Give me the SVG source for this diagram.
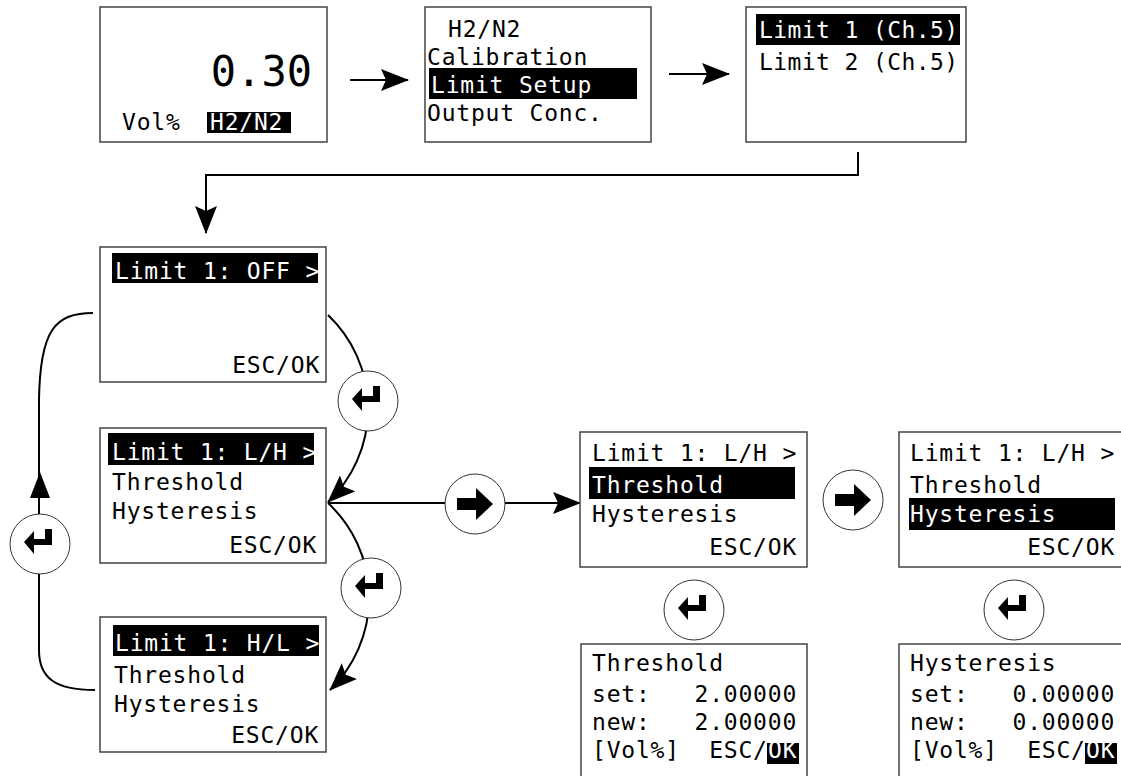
<svg xmlns="http://www.w3.org/2000/svg" xmlns:xlink="http://www.w3.org/1999/xlink" width="1121" height="776" viewBox="0 0 1121 776">
<style>
.box{fill:#fff;stroke:#444;stroke-width:1.5}
.t{font-family:"DejaVu Sans Mono","Liberation Mono",monospace;font-size:23px;letter-spacing:0.8px;fill:#000;white-space:pre}
.n{letter-spacing:0.4px}
.w{fill:#fff}
.hl{fill:#000}
.big{font-family:"DejaVu Sans Mono","Liberation Mono",monospace;font-size:42px;fill:#000}
.c{fill:none;stroke:#000;stroke-width:2}
.btn{fill:#fff;stroke:#333;stroke-width:1}
.ico{fill:#000}
</style>
<defs>
<marker id="ah" viewBox="0 0 28 22" refX="27" refY="11" markerWidth="28" markerHeight="22" markerUnits="userSpaceOnUse" orient="auto">
<path d="M0,0 L28,11 L0,22 L5,11 Z" fill="#000"/>
</marker>
<path id="enter" d="M12,-15 L12,1 L-6,1 L-6,10 L-16,-2 L-6,-13 L-6,-5 L5,-5 L5,-15 Z"/>
<path id="right" d="M-18,-6 L1,-6 L1,-16 L18,0 L1,16 L1,6 L-18,6 Z"/>
</defs>
<rect width="1121" height="776" fill="#fff"/>

<g id="connectors">
<line class="c" x1="350" y1="80" x2="408" y2="80" marker-end="url(#ah)"/>
<line class="c" x1="669" y1="74" x2="729" y2="74" marker-end="url(#ah)"/>
<polyline class="c" points="858,152 858,175 206,175 206,233" marker-end="url(#ah)"/>
<path class="c" d="M328,315 A129,129 0 0 1 328,502" marker-end="url(#ah)"/>
<path class="c" d="M328,503 A129,129 0 0 1 330,690" marker-end="url(#ah)"/>
<line class="c" x1="328" y1="503" x2="580" y2="503" marker-end="url(#ah)"/>
<path class="c" d="M95,690 C55,690 39,678 39,650 L39,400 C40,330 55,313 93,313"/>
<polygon points="40,472 30,498 50,498" fill="#000"/>
</g>

<g id="btn-enter-1"><circle class="btn" cx="368" cy="401" r="30"/><use href="#enter" x="368" y="401" class="ico"/></g>
<g id="btn-enter-2"><circle class="btn" cx="371" cy="588" r="30"/><use href="#enter" x="371" y="588" class="ico"/></g>
<g id="btn-enter-3"><circle class="btn" cx="40" cy="544" r="30"/><use href="#enter" x="40" y="544" class="ico"/></g>
<g id="btn-enter-4"><circle class="btn" cx="694" cy="610" r="30"/><use href="#enter" x="694" y="610" class="ico"/></g>
<g id="btn-enter-5"><circle class="btn" cx="1014" cy="610" r="30"/><use href="#enter" x="1014" y="610" class="ico"/></g>
<g id="btn-right-1"><circle class="btn" cx="475" cy="504" r="30"/><use href="#right" x="475" y="504" class="ico"/></g>
<g id="btn-right-2"><circle class="btn" cx="853" cy="500" r="30"/><use href="#right" x="853" y="500" class="ico"/></g>

<g id="screen-main">
<rect class="box" x="100" y="7" width="227" height="135"/>
<text class="big" x="312" y="86" text-anchor="end">0.30</text>
<text class="t" x="122" y="130">Vol%</text>
<rect class="hl" x="207" y="112" width="84" height="21"/>
<text class="t w" x="210" y="130">H2/N2</text>
</g>

<g id="screen-menu">
<rect class="box" x="425" y="7" width="226" height="135"/>
<text class="t" x="448" y="37">H2/N2</text>
<text class="t" x="427" y="65">Calibration</text>
<rect class="hl" x="429" y="68" width="208" height="31"/>
<text class="t w" x="431" y="93">Limit Setup</text>
<text class="t" x="427" y="121">Output Conc.</text>
</g>

<g id="screen-limits">
<rect class="box" x="746" y="7" width="220" height="135"/>
<rect class="hl" x="756" y="14" width="204" height="31"/>
<text class="t n w" x="759" y="38">Limit 1 (Ch.5)</text>
<text class="t n" x="759" y="70">Limit 2 (Ch.5)</text>
</g>

<g id="screen-off">
<rect class="box" x="100" y="247" width="226" height="135"/>
<rect class="hl" x="112" y="253" width="206" height="30"/>
<text class="t w" x="115" y="279">Limit 1: OFF &gt;</text>
<text class="t" x="115" y="373">        ESC/OK</text>
</g>

<g id="screen-lh">
<rect class="box" x="100" y="428" width="226" height="135"/>
<rect class="hl" x="108" y="433" width="206" height="32"/>
<text class="t w" x="112" y="460">Limit 1: L/H &gt;</text>
<text class="t" x="112" y="490">Threshold</text>
<text class="t" x="112" y="519">Hysteresis</text>
<text class="t" x="112" y="553">        ESC/OK</text>
</g>

<g id="screen-hl">
<rect class="box" x="100" y="617" width="226" height="135"/>
<rect class="hl" x="113" y="625" width="206" height="31"/>
<text class="t w" x="115" y="651">Limit 1: H/L &gt;</text>
<text class="t" x="114" y="683">Threshold</text>
<text class="t" x="114" y="712">Hysteresis</text>
<text class="t" x="114" y="743">        ESC/OK</text>
</g>

<g id="screen-threshold-sel">
<rect class="box" x="580" y="432" width="227" height="135"/>
<text class="t" x="592" y="461">Limit 1: L/H &gt;</text>
<rect class="hl" x="589" y="467" width="206" height="32"/>
<text class="t w" x="592" y="493">Threshold</text>
<text class="t" x="592" y="522">Hysteresis</text>
<text class="t" x="592" y="555">        ESC/OK</text>
</g>

<g id="screen-hysteresis-sel">
<rect class="box" x="899" y="432" width="228" height="135"/>
<text class="t" x="910" y="461">Limit 1: L/H &gt;</text>
<text class="t" x="910" y="493">Threshold</text>
<rect class="hl" x="909" y="498" width="206" height="32"/>
<text class="t w" x="910" y="522">Hysteresis</text>
<text class="t" x="910" y="555">        ESC/OK</text>
</g>

<g id="screen-threshold-edit">
<rect class="box" x="581" y="644" width="226" height="150"/>
<text class="t" x="592" y="671">Threshold</text>
<text class="t" x="592" y="702">set:   2.00000</text>
<text class="t" x="592" y="730">new:   2.00000</text>
<text class="t" x="592" y="758">[Vol%]  ESC/</text>
<rect class="hl" x="767" y="743" width="32" height="21"/>
<text class="t w" x="768" y="758">OK</text>
</g>

<g id="screen-hysteresis-edit">
<rect class="box" x="899" y="644" width="228" height="150"/>
<text class="t" x="910" y="671">Hysteresis</text>
<text class="t" x="910" y="702">set:   0.00000</text>
<text class="t" x="910" y="730">new:   0.00000</text>
<text class="t" x="910" y="758">[Vol%]  ESC/</text>
<rect class="hl" x="1085" y="743" width="32" height="21"/>
<text class="t w" x="1086" y="758">OK</text>
</g>
</svg>
